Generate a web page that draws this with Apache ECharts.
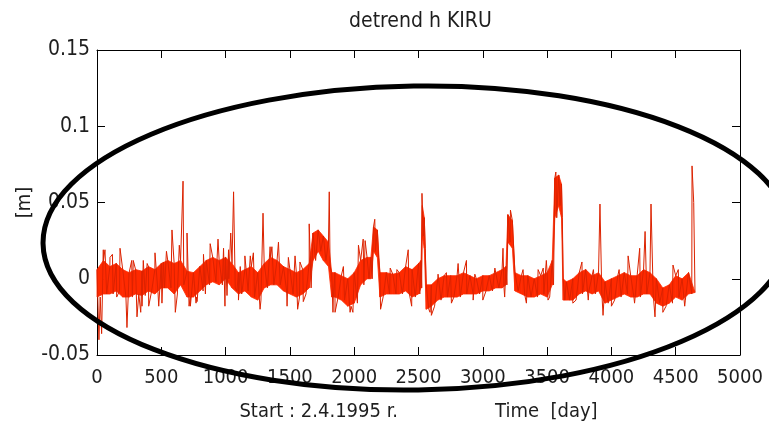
<!DOCTYPE html>
<html><head><meta charset="utf-8">
<script src="https://cdn.jsdelivr.net/npm/echarts@6/dist/echarts.min.js"></script>
<style>html,body{margin:0;padding:0;background:#fff}#c{width:769px;height:430px}</style>
</head><body><div id="c"></div>
<script>
// ---- data (metres vs. days) ----
const sampleDay = [0,50,100,150,200,250,300,350,400,450,500,550,600,650,700,750,800,850,900,950,
  1000,1050,1100,1150,1200,1250,1300,1350,1400,1450,1500,1550,1600,1650,1680,1720,1760,1800,1825,1850,
  1900,1950,2000,2050,2100,2130,2150,2180,2200,2250,2300,2350,2400,2450,2500,2520,2530,2545,2560,2600,
  2650,2700,2750,2800,2850,2900,2950,3000,3050,3100,3150,3180,3195,3230,3250,3300,3350,3400,3450,3500,
  3540,3560,3590,3612,3625,3650,3700,3750,3800,3850,3900,3950,4000,4050,4100,4150,4200,4250,4300,4350,
  4400,4450,4500,4550,4600,4650];
const bandTop = [0.006,0.012,0.008,0.010,0.006,0.004,0.006,0.005,0.008,0.006,0.010,0.012,0.010,0.012,0.005,0.004,0.008,0.012,0.014,0.012,
  0.014,0.010,0.004,0.006,0.008,0.004,0.010,0.014,0.012,0.008,0.006,0.004,0.006,0.010,0.030,0.032,0.028,0.024,0.004,0.004,
  0.002,0.000,0.004,0.012,0.014,0.014,0.034,0.032,0.004,0.004,0.003,0.004,0.008,0.006,0.010,0.012,0.048,0.040,-0.004,-0.004,
  0.000,0.002,0.002,0.002,0.004,0.002,0.000,0.002,0.002,0.004,0.006,0.008,0.042,0.038,0.004,0.002,0.002,0.000,0.002,0.004,
  0.012,0.066,0.068,0.062,0.000,-0.002,0.000,0.004,0.006,0.002,0.004,-0.002,0.000,0.002,0.004,0.002,0.002,0.006,0.004,0.000,
  -0.006,-0.004,0.002,0.000,0.004,-0.009];
const bandBot = [-0.012,-0.010,-0.010,-0.008,-0.012,-0.012,-0.010,-0.011,-0.008,-0.010,-0.006,-0.006,-0.010,-0.004,-0.012,-0.012,-0.008,-0.004,-0.002,-0.004,
  0.000,-0.006,-0.010,-0.008,-0.012,-0.014,-0.006,-0.004,-0.004,-0.008,-0.010,-0.012,-0.010,-0.006,0.012,0.018,0.012,0.008,-0.012,-0.012,
  -0.014,-0.018,-0.016,-0.004,0.000,0.000,0.018,0.014,-0.012,-0.010,-0.010,-0.010,-0.008,-0.012,-0.010,-0.006,0.028,0.020,-0.020,-0.018,
  -0.014,-0.012,-0.012,-0.012,-0.010,-0.010,-0.010,-0.008,-0.008,-0.006,-0.006,-0.004,0.024,0.020,-0.008,-0.010,-0.012,-0.012,-0.010,-0.012,
  -0.004,0.040,0.048,0.040,-0.014,-0.014,-0.014,-0.010,-0.008,-0.010,-0.008,-0.016,-0.014,-0.012,-0.010,-0.012,-0.012,-0.010,-0.010,-0.016,
  -0.018,-0.016,-0.012,-0.014,-0.010,-0.009];
const spikeDay = [15,36,49,62,101,120,153,179,233,270,282,311,340,350,360,390,402,451,480,505,
  516,540,583,609,640,669,700,716,726,770,778,828,843,880,893,941,984,995,1011,1023,
  1040,1062,1088,1100,1114,1140,1150,1192,1216,1268,1291,1346,1360,1411,1478,1488,1540,1560,1578,1604,
  1650,1806,1835,1851,1916,1968,1990,2033,2070,2085,2160,2205,2215,2280,2332,2384,2420,2447,2527,2590,
  2600,2652,2717,2756,2808,2873,2925,2938,3000,3094,3157,3170,3215,3313,3339,3430,3470,3494,3507,3568,
  3700,3771,3820,3860,3911,3935,4000,4060,4130,4180,4220,4262,4308,4339,4400,4479,4520,4570,4627,4640];
const spikeVal = [-0.040,-0.036,0.019,0.019,0.014,0.016,-0.012,0.020,-0.032,0.012,0.012,-0.025,-0.022,-0.018,0.012,0.010,-0.018,0.017,-0.018,-0.016,
  0.011,0.018,0.032,-0.022,0.022,0.064,0.030,-0.018,-0.018,-0.016,-0.015,0.016,-0.010,0.023,0.023,0.026,0.020,-0.018,-0.011,0.019,
  0.030,0.057,-0.008,-0.014,0.008,-0.011,0.015,0.015,0.017,-0.020,0.043,0.021,0.021,0.024,-0.018,0.014,0.015,-0.020,0.011,-0.015,
  0.036,0.057,-0.022,-0.022,0.008,-0.022,-0.022,0.022,0.026,0.025,0.039,-0.020,-0.019,0.007,0.006,-0.011,0.019,-0.018,0.056,-0.022,
  -0.024,0.003,0.004,-0.016,0.010,0.012,-0.014,0.003,-0.014,0.007,0.020,-0.012,0.045,0.006,-0.016,0.006,0.007,0.012,-0.014,0.070,
  -0.016,0.011,-0.014,0.006,0.049,-0.024,-0.018,0.006,0.015,-0.016,0.020,0.031,0.049,-0.025,-0.022,0.009,0.006,-0.018,0.074,0.050];
const yTicks = [-0.05, 0, 0.05, 0.1, 0.15];
const yTickLabels = ['-0.05', '0', '0.05', '0.1', '0.15'];
const xMin = 0, xMax = 5000, xStep = 500;

// ---- build series data ----
const bandSegs = [];
for (let i = 0; i < sampleDay.length - 1; i++) {
  bandSegs.push([sampleDay[i], bandTop[i], bandBot[i], sampleDay[i + 1], bandTop[i + 1], bandBot[i + 1]]);
}
const zig = [];
for (let i = 0; i < sampleDay.length; i++) {
  zig.push([sampleDay[i], bandTop[i]]);
  if (i < sampleDay.length - 1) zig.push([(sampleDay[i] + sampleDay[i + 1]) / 2, bandBot[i]]);
}
spikeDay.forEach((d, i) => zig.push([d, spikeVal[i]]));
zig.sort((a, b) => a[0] - b[0]);

const FONT = "'Liberation Sans Narrow','DejaVu Sans Condensed','Arial Narrow',sans-serif";
const TXT = '#1e1e1e';
const FILL = '#ff2a00';
const fmtY = v => { const k = yTicks.findIndex(t => Math.abs(t - v) < 1e-9); return k >= 0 ? yTickLabels[k] : ''; };
const axisCommon = {
  axisLine: { show: true, onZero: false, lineStyle: { color: '#000', width: 1 } },
  axisTick: { show: true, inside: true, length: 8, lineStyle: { color: '#000', width: 1 } },
  splitLine: { show: false }
};

const chart = echarts.init(document.getElementById('c'), null, { renderer: 'canvas' });
chart.setOption({
  animation: false,
  backgroundColor: '#fff',
  title: {
    text: 'detrend h KIRU', left: 344, top: 6,
    textStyle: { fontFamily: FONT, fontSize: 21, fontWeight: 'normal', color: TXT }
  },
  grid: { left: 97, right: 29, top: 50, bottom: 75 },
  xAxis: [
    Object.assign({
      type: 'value', min: xMin, max: xMax, interval: xStep, position: 'bottom',
      axisLabel: { fontFamily: FONT, fontSize: 20, color: TXT, margin: 13, formatter: v => String(v) },
      name: 'Start : 2.4.1995 r.                 Time  [day]',
      nameLocation: 'middle', nameGap: 47, nameMoveOverlap: false,
      nameTextStyle: { fontFamily: FONT, fontSize: 20, color: TXT }
    }, axisCommon),
    Object.assign({
      type: 'value', min: xMin, max: xMax, interval: xStep, position: 'top',
      axisLabel: { show: false }
    }, axisCommon)
  ],
  yAxis: [
    Object.assign({
      type: 'value', min: -0.05, max: 0.15, interval: 0.05, position: 'left',
      axisLabel: { fontFamily: FONT, fontSize: 21, color: TXT, margin: 7, formatter: fmtY },
      name: '[m]', nameLocation: 'middle', nameGap: 62, nameMoveOverlap: false,
      nameTextStyle: { fontFamily: FONT, fontSize: 20, color: TXT }
    }, axisCommon),
    Object.assign({
      type: 'value', min: -0.05, max: 0.15, interval: 0.05, position: 'right',
      axisLabel: { show: false }
    }, axisCommon)
  ],
  series: [
    {
      type: 'custom', data: bandSegs, silent: true,
      renderItem: function (params, api) {
        const p1 = api.coord([api.value(0), api.value(1)]);
        const p2 = api.coord([api.value(3), api.value(4)]);
        const p3 = api.coord([api.value(3), api.value(5)]);
        const p4 = api.coord([api.value(0), api.value(2)]);
        return {
          type: 'polygon',
          shape: { points: [p1, p2, p3, p4] },
          style: { fill: FILL, stroke: FILL, lineWidth: 0.8 }
        };
      }
    },
    {
      type: 'line', data: zig, showSymbol: false, symbol: 'none',
      lineStyle: { color: '#dc2200', width: 1 }, silent: true
    }
  ],
  graphic: [{
    type: 'ellipse', silent: true, z: 100,
    shape: { cx: 416, cy: 238, rx: 373, ry: 152 },
    originX: 416, originY: 238, rotation: 0.015,
    style: { fill: 'none', stroke: '#000', lineWidth: 5 }
  }]
});
</script></body></html>
